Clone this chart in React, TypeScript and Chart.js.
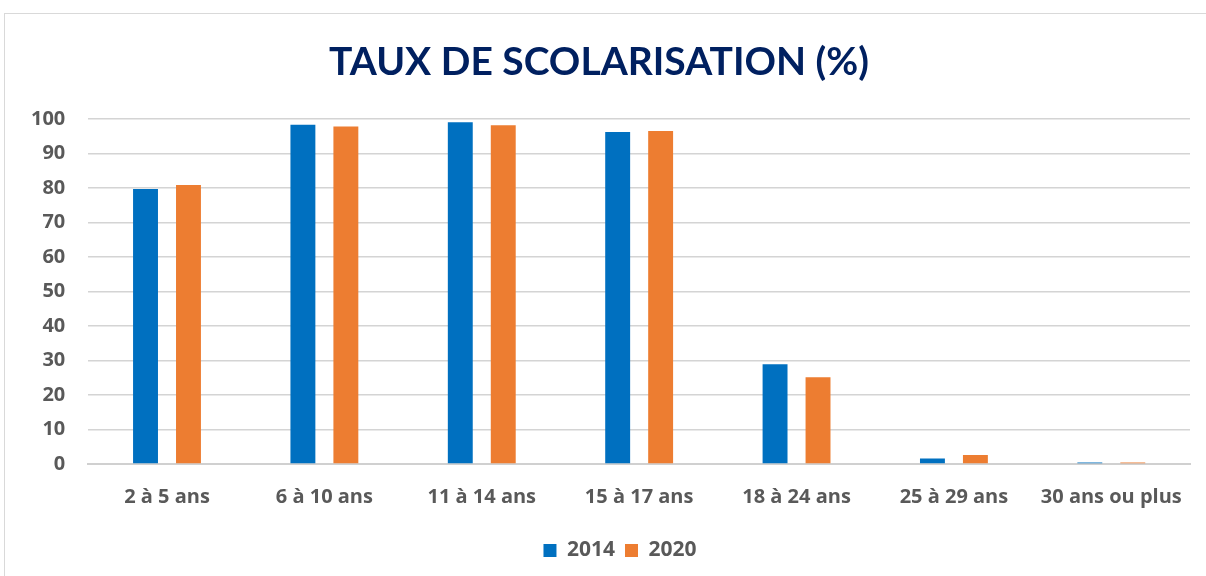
import React, { useEffect, useRef } from "react";
import { Chart, registerables } from "chart.js";

Chart.register(...registerables);

const categories = ["2 à 5 ans", "6 à 10 ans", "11 à 14 ans", "15 à 17 ans", "18 à 24 ans", "25 à 29 ans", "30 ans ou plus"];
const values2014 = [79.7, 98.3, 99.0, 96.2, 28.9, 1.6, 0.4];
const values2020 = [80.8, 97.8, 98.1, 96.5, 25.1, 2.6, 0.4];
const yTicks = [0, 10, 20, 30, 40, 50, 60, 70, 80, 90, 100];

const TITLE_FONT = "Lato, 'Open Sans', sans-serif";
const FONT = "'Open Sans', sans-serif";
const GRAY = "#595959";

const shiftLegend = {
  id: "shiftLegend",
  afterLayout(chart: any) {
    if (chart.legend) {
      chart.legend.left += 21;
      chart.legend.right += 21;
    }
  },
};

export default function App() {
  const ref = useRef<HTMLCanvasElement | null>(null);
  useEffect(() => {
    if (!ref.current) return;
    const chart = new Chart(ref.current, {
      type: "bar",
      data: {
        labels: categories,
        datasets: [
          { label: "2014", data: values2014, backgroundColor: "#0070C0", barPercentage: 0.58, categoryPercentage: 0.546 },
          { label: "2020", data: values2020, backgroundColor: "#ED7D31", barPercentage: 0.58, categoryPercentage: 0.546 },
        ],
      },
      plugins: [shiftLegend],
      options: {
        animation: false,
        responsive: false,
        maintainAspectRatio: false,
        layout: { padding: { left: 8, right: 16, top: 10, bottom: 5 } },
        plugins: {
          title: {
            display: true,
            text: "TAUX DE SCOLARISATION (%)",
            color: "#002060",
            font: { family: TITLE_FONT, size: 39, weight: "bold" },
            padding: { top: 29, bottom: 33 },
          },
          legend: {
            position: "bottom",
            labels: {
              color: GRAY,
              font: { family: FONT, size: 21, weight: "bold" },
              boxWidth: 13,
              boxHeight: 13,
              padding: 10,
            },
          },
          tooltip: { enabled: false },
        },
        scales: {
          x: {
            grid: { display: false, drawTicks: false },
            border: { display: true, color: "#d0d0d0", width: 2 },
            ticks: { color: GRAY, font: { family: FONT, size: 20, weight: "bold" }, padding: 21, maxRotation: 0 },
          },
          y: {
            min: 0,
            max: 100,
            afterBuildTicks: (axis: any) => {
              axis.ticks = yTicks.map((v) => ({ value: v }));
            },
            grid: { color: "#d4d4d4", lineWidth: 1.5, drawTicks: false },
            border: { display: false },
            ticks: { color: GRAY, font: { family: FONT, size: 20, weight: "bold" }, padding: 23 },
          },
        },
      },
    });
    return () => chart.destroy();
  }, []);
  return (
    <div style={{ position: "absolute", left: 0, top: 0, width: 1206, height: 576, background: "#fff", overflow: "hidden" }}>
      <div style={{ position: "absolute", left: 4, top: 13, width: 1220, height: 600, border: "1px solid #d9d9d9" }} />
      <canvas ref={ref} width={1206} height={576} style={{ position: "absolute", left: 0, top: 0 }} />
    </div>
  );
}
